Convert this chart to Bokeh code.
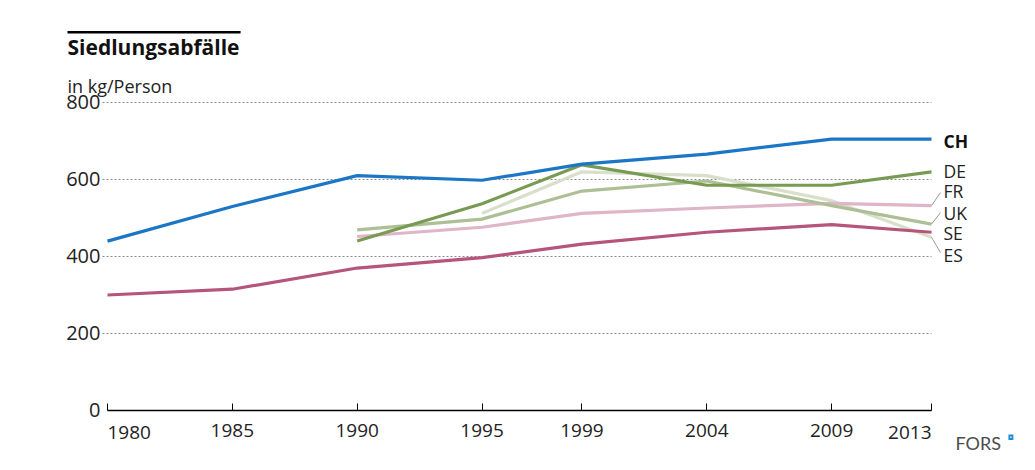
from bokeh.plotting import figure
from bokeh.models import Label, Arrow, BoxAnnotation, FixedTicker, Range1d
from bokeh.embed import file_html
from bokeh.resources import INLINE

NAN = float("nan")
years = [1980, 1985, 1990, 1995, 1999, 2004, 2009, 2013]
CH = [440, 530, 610, 598, 640, 666, 705, 705]
DE = [NAN, NAN, 440, 537, 638, 585, 585, 620]
FR = [NAN, NAN, 452, 476, 512, 526, 538, 532]
UK = [NAN, NAN, 469, 497, 570, 596, 532, 484]
SE = [300, 315, 370, 397, 432, 463, 483, 463]
ES = [NAN, NAN, NAN, 512, 620, 610, 545, 450]
y_ticks = [0, 200, 400, 600, 800]
title = "Siedlungsabfälle"
subtitle = "in kg/Person"

series = [
    ("ES", ES, "#d8dfca"),
    ("FR", FR, "#dfb5c7"),
    ("UK", UK, "#adc095"),
    ("DE", DE, "#789a52"),
    ("SE", SE, "#b5557b"),
    ("CH", CH, "#1c76c6"),
]
# label vertical positions (layout, in value units) and leader-line ends
label_pos = {"CH": 701, "DE": 623, "FR": 569, "UK": 513, "SE": 460, "ES": 403}
leader_end = {"FR": 566, "UK": 514, "ES": 410}

FONT = "Open Sans"
TXT = "#222222"

W, H = 1019, 454
# frame covers the whole canvas; ranges chosen so the axes sit where they should
p = figure(width=W, height=H, output_backend="svg", toolbar_location=None,
           x_range=Range1d(1975.715, 2016.524), y_range=Range1d(-114.3, 1064.9),
           min_border=0, min_border_left=0, min_border_right=0,
           min_border_top=0, min_border_bottom=0)
p.outline_line_color = None
p.background_fill_color = "white"
p.border_fill_color = "white"

# dotted value grid
p.segment(x0=[years[0] - 0.2] * 4, x1=[years[-1]] * 4, y0=y_ticks[1:], y1=y_ticks[1:],
          line_color="#8a8a8a", line_dash="2 2", line_width=1)

for name, vals, col in series:
    p.line(years, vals, line_color=col, line_width=3.2)

# axes
p.xaxis.fixed_location = 0
p.xaxis.bounds = (years[0], years[-1])
p.xaxis.ticker = FixedTicker(ticks=years)
p.xaxis.major_label_overrides = {years[0]: "", years[-1]: ""}
p.xaxis.axis_line_color = "black"
p.xaxis.axis_line_width = 1.4
p.xaxis.major_tick_in = 7
p.xaxis.major_tick_out = 0
p.xaxis.major_tick_line_color = "black"
p.xaxis.minor_tick_line_color = None
p.xaxis.major_label_text_font = FONT
p.xaxis.major_label_text_font_size = "19px"
p.xaxis.major_label_text_color = TXT
p.xaxis.major_label_standoff = 14

p.yaxis.fixed_location = years[0]
p.yaxis.ticker = FixedTicker(ticks=y_ticks)
p.yaxis.axis_line_color = None
p.yaxis.major_tick_line_color = None
p.yaxis.minor_tick_line_color = None
p.yaxis.major_label_text_font = FONT
p.yaxis.major_label_text_font_size = "20px"
p.yaxis.major_label_text_color = TXT
p.yaxis.major_label_standoff = 1

p.grid.grid_line_color = None

# end tick labels aligned to the axis ends
for yr, al in ((years[0], "left"), (years[-1], "right")):
    p.add_layout(Label(x=yr, y=-57, text=str(yr), text_align=al,
                       text_baseline="middle", text_font=FONT, text_font_size="19px",
                       text_color=TXT))

# title and subtitle
p.add_layout(Arrow(end=None, x_start=1978.398, x_end=1985.33, y_start=982.6, y_end=982.6,
                   line_color="black", line_width=2.6))
p.add_layout(Label(x=years[0], x_offset=-40, y=942.9, text=title, text_font=FONT,
                   text_font_style="bold", text_font_size="21px", text_color="#111111",
                   text_baseline="middle"))
p.add_layout(Label(x=years[0], x_offset=-40, y=841.6, text=subtitle, text_font=FONT,
                   text_font_size="18px", text_color=TXT, text_baseline="middle"))

# series labels with leader lines
for name, vals, col in series:
    ly = label_pos[name]
    p.add_layout(Label(x=years[-1], x_offset=12, y=ly, text=name, text_font=FONT,
                       text_font_size="17.5px",
                       text_color="#111111" if name == "CH" else TXT,
                       text_font_style="bold" if name == "CH" else "normal",
                       text_baseline="middle"))
    if name in leader_end:
        p.add_layout(Arrow(end=None, x_start=years[-1], y_start=vals[-1],
                           x_end=years[-1] + 0.36, y_end=leader_end[name],
                           line_color="#9a9a9a", line_width=1))

# FORS mark
p.add_layout(Label(x=years[-1], x_offset=24, y=-85.7, text="FORS", text_font="Lato",
                   text_font_size="18px", text_color="#4d4d4d", text_baseline="middle"))
p.add_layout(BoxAnnotation(left=2016.08, right=2016.28, top=-62.3, bottom=-76.6,
                           fill_color="#1a8fd8", fill_alpha=1, line_color=None))
p.add_layout(BoxAnnotation(left=2016.155, right=2016.205, top=-67.5, bottom=-71.5,
                           fill_color="white", fill_alpha=1, line_color=None))

open("out.html", "w").write(file_html(p, INLINE))
